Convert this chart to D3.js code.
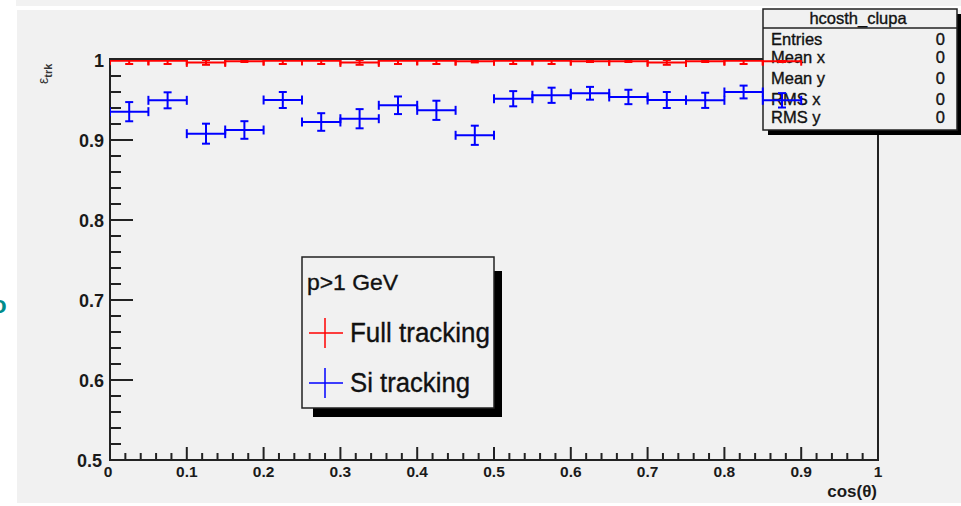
<!DOCTYPE html>
<html>
<head>
<meta charset="utf-8">
<script src="https://cdn.jsdelivr.net/npm/d3@7"></script>
<style>
  html, body { margin: 0; padding: 0; background: #ffffff; }
  svg { display: block; }
  text { font-family: "Liberation Sans", Arial, Helvetica, sans-serif; }
  .heavy { stroke: #111; stroke-width: 0.35px; }
</style>
</head>
<body>
<div id="chart"></div>
<script>
const width = 961;
const height = 506;

// bin centres of cos(theta), half width 0.025
const binCentres = [0.025, 0.075, 0.125, 0.175, 0.225, 0.275, 0.325, 0.375, 0.425,
                    0.475, 0.525, 0.575, 0.625, 0.675, 0.725, 0.775, 0.825, 0.875];
const binHalf = 0.025;

const fullEff = [0.999, 0.999, 0.997, 0.9985, 0.999, 0.999, 0.997, 0.999, 0.999,
                 0.9985, 0.999, 0.999, 0.9985, 0.9985, 0.997, 0.9985, 0.999, 0.9985];
const fullErr = [0.004, 0.004, 0.003, 0.001, 0.004, 0.004, 0.003, 0.004, 0.004,
                 0.0015, 0.004, 0.004, 0.001, 0.001, 0.003, 0.001, 0.004, 0.001];

const siEff = [0.9354, 0.9496, 0.9079, 0.9125, 0.950, 0.9225, 0.9266, 0.9434, 0.9371,
               0.9059, 0.9516, 0.9559, 0.9584, 0.9538, 0.950, 0.9496, 0.960, 0.9496];
const siErr = [0.012, 0.010, 0.0125, 0.011, 0.010, 0.011, 0.012, 0.011, 0.012,
               0.012, 0.0095, 0.0095, 0.008, 0.009, 0.010, 0.0095, 0.008, 0.009];

const xTicks = [0, 0.1, 0.2, 0.3, 0.4, 0.5, 0.6, 0.7, 0.8, 0.9, 1];
const yTicks = [0.5, 0.6, 0.7, 0.8, 0.9, 1];

const statNames = ["Entries", "Mean x", "Mean y", "RMS x", "RMS y"];
const statValues = ["0", "0", "0", "0", "0"];

const legendTitle = "p>1 GeV";
const legendItems = [
    { label: "Full tracking", color: "#ff0000" },
    { label: "Si tracking", color: "#0000ff" }
];

const canvasColor = "#f1f1f1";
const plot = { left: 110, right: 878, top: 60, bottom: 460 };

const x = d3.scaleLinear().domain([0, 1]).range([plot.left, plot.right]);
const y = d3.scaleLinear().domain([0.5, 1]).range([plot.bottom, plot.top]);

const svg = d3.select("#chart").append("svg")
    .attr("width", width)
    .attr("height", height);

// page background bits
svg.append("rect").attr("x", 16).attr("y", 0).attr("width", width - 16).attr("height", 6).attr("fill", "#f2f2f2");
svg.append("rect").attr("x", 17).attr("y", 10).attr("width", width - 17).attr("height", 493).attr("fill", canvasColor);
svg.append("text")
    .attr("x", -8).attr("y", 313)
    .style("font-size", "24px").style("font-weight", "bold")
    .attr("fill", "#008b8b")
    .text("o");

svg.append("defs").append("clipPath").attr("id", "plotclip")
    .append("rect")
    .attr("x", plot.left).attr("y", plot.top)
    .attr("width", plot.right - plot.left).attr("height", plot.bottom - plot.top);

// frame top and right
svg.append("line")
    .attr("x1", plot.left).attr("x2", plot.right)
    .attr("y1", plot.top - 1).attr("y2", plot.top - 1)
    .attr("stroke", "#222").attr("stroke-width", 2);
svg.append("line")
    .attr("x1", plot.right).attr("x2", plot.right)
    .attr("y1", plot.top).attr("y2", plot.bottom)
    .attr("stroke", "#222").attr("stroke-width", 2);

// x axis
const xMinor = d3.range(0, 51).map(i => i / 50);
const xAxisG = svg.append("g");
xAxisG.selectAll("line.minor")
    .data(xMinor)
    .join("line")
    .attr("x1", d => x(d)).attr("x2", d => x(d))
    .attr("y1", plot.bottom).attr("y2", d => plot.bottom - (Math.round(d * 50) % 5 === 0 ? 13 : 7))
    .attr("stroke", "#222").attr("stroke-width", 2);
xAxisG.append("line")
    .attr("x1", plot.left - 1).attr("x2", plot.right + 1)
    .attr("y1", plot.bottom).attr("y2", plot.bottom)
    .attr("stroke", "#222").attr("stroke-width", 2);
xAxisG.selectAll("text")
    .data(xTicks)
    .join("text")
    .attr("x", d => x(d) + (d === 0 ? -2 : 0))
    .attr("y", 477)
    .attr("text-anchor", "middle")
    .style("font-size", "15.5px").style("font-weight", "bold")
    .attr("fill", "#1a1a1a")
    .text(d => d3.format("~g")(d));

svg.append("text")
    .attr("x", 877).attr("y", 497)
    .attr("text-anchor", "end")
    .style("font-size", "17px").style("font-weight", "bold")
    .attr("fill", "#1a1a1a")
    .text("cos(θ)");

// y axis
const yMinor = d3.range(0, 26).map(i => 0.5 + i / 50);
const yAxisG = svg.append("g");
yAxisG.selectAll("line.minor")
    .data(yMinor)
    .join("line")
    .attr("y1", d => y(d)).attr("y2", d => y(d))
    .attr("x1", plot.left).attr("x2", (d, i) => plot.left + (i % 5 === 0 ? 23 : 11))
    .attr("stroke", "#222").attr("stroke-width", 2);
yAxisG.append("line")
    .attr("x1", plot.left).attr("x2", plot.left)
    .attr("y1", plot.top - 2).attr("y2", plot.bottom + 1)
    .attr("stroke", "#222").attr("stroke-width", 2);
yAxisG.selectAll("text")
    .data(yTicks)
    .join("text")
    .attr("x", d => d === 0.5 ? 102 : 104)
    .attr("y", d => y(d) + 7)
    .attr("text-anchor", "end")
    .style("font-size", "18px").style("font-weight", "bold")
    .attr("fill", "#1a1a1a")
    .text(d => d3.format("~g")(d));

const yTitle = svg.append("text")
    .attr("transform", "translate(48,84) rotate(-90)")
    .style("font-size", "14px")
    .attr("fill", "#333");
yTitle.append("tspan").text("ε");
yTitle.append("tspan").attr("dy", 4).style("font-size", "11px").style("font-weight", "bold").text("trk");

// stats box
const stats = svg.append("g");
stats.append("rect")
    .attr("x", 768).attr("y", 14).attr("width", 196).attr("height", 121)
    .attr("fill", "#000");
stats.append("rect")
    .attr("x", 763).attr("y", 9).attr("width", 194).attr("height", 121)
    .attr("fill", canvasColor).attr("stroke", "#222").attr("stroke-width", 1.5);
stats.append("line")
    .attr("x1", 763).attr("x2", 957).attr("y1", 28).attr("y2", 28)
    .attr("stroke", "#222").attr("stroke-width", 1.5);
stats.append("text")
    .attr("class", "heavy")
    .attr("x", 858).attr("y", 24)
    .attr("text-anchor", "middle")
    .style("font-size", "16.5px")
    .attr("fill", "#111")
    .text("hcosth_clupa");
const statY = [45, 63, 84, 105, 123];
stats.selectAll("text.name")
    .data(statNames)
    .join("text")
    .attr("class", "name heavy")
    .attr("x", 771).attr("y", (d, i) => statY[i])
    .style("font-size", "16.5px")
    .attr("fill", "#111")
    .text(d => d);
stats.selectAll("text.val")
    .data(statValues)
    .join("text")
    .attr("class", "val heavy")
    .attr("x", 945).attr("y", (d, i) => statY[i])
    .attr("text-anchor", "end")
    .style("font-size", "16.5px")
    .attr("fill", "#111")
    .text(d => d);

// error-bar series
function drawSeries(vals, errs, color) {
    const g = svg.append("g")
        .attr("clip-path", "url(#plotclip)")
        .attr("stroke", color)
        .attr("stroke-width", 2)
        .attr("fill", "none");
    binCentres.forEach((c, i) => {
        const cy = y(vals[i]);
        const x0 = x(c - binHalf), x1 = x(c + binHalf), cx = x(c);
        const yt = y(vals[i] + errs[i]), yb = y(vals[i] - errs[i]);
        g.append("line").attr("x1", x0).attr("x2", x1).attr("y1", cy).attr("y2", cy);
        g.append("line").attr("x1", x0).attr("x2", x0).attr("y1", cy - 4.5).attr("y2", cy + 4.5);
        g.append("line").attr("x1", x1).attr("x2", x1).attr("y1", cy - 4.5).attr("y2", cy + 4.5);
        g.append("line").attr("x1", cx).attr("x2", cx).attr("y1", yt).attr("y2", yb);
        g.append("line").attr("x1", cx - 4).attr("x2", cx + 4).attr("y1", yt).attr("y2", yt);
        g.append("line").attr("x1", cx - 4).attr("x2", cx + 4).attr("y1", yb).attr("y2", yb);
    });
}
drawSeries(fullEff, fullErr, "#ff0000");
drawSeries(siEff, siErr, "#0000ff");

// legend
const leg = svg.append("g");
leg.append("rect")
    .attr("x", 313).attr("y", 271).attr("width", 189).attr("height", 146)
    .attr("fill", "#000");
leg.append("rect")
    .attr("x", 302).attr("y", 257).attr("width", 192).attr("height", 151)
    .attr("fill", canvasColor).attr("stroke", "#222").attr("stroke-width", 1.5);
leg.append("text")
    .attr("class", "heavy")
    .attr("x", 307).attr("y", 290)
    .style("font-size", "22px")
    .attr("textLength", 91)
    .attr("lengthAdjust", "spacingAndGlyphs")
    .attr("fill", "#111")
    .text(legendTitle);
const legY = [333, 383];
legendItems.forEach((d, i) => {
    const cy = legY[i];
    leg.append("line").attr("x1", 309).attr("x2", 343).attr("y1", cy).attr("y2", cy)
        .attr("stroke", d.color).attr("stroke-width", 1.5);
    leg.append("line").attr("x1", 325).attr("x2", 325).attr("y1", cy - 15).attr("y2", cy + 15)
        .attr("stroke", d.color).attr("stroke-width", 1.5);
    leg.append("text")
        .attr("class", "heavy")
        .attr("x", 350).attr("y", cy + 9)
        .style("font-size", "27px")
        .attr("textLength", i === 0 ? 140 : 120)
        .attr("lengthAdjust", "spacingAndGlyphs")
        .attr("fill", "#111")
        .text(d.label);
});
</script>
</body>
</html>
